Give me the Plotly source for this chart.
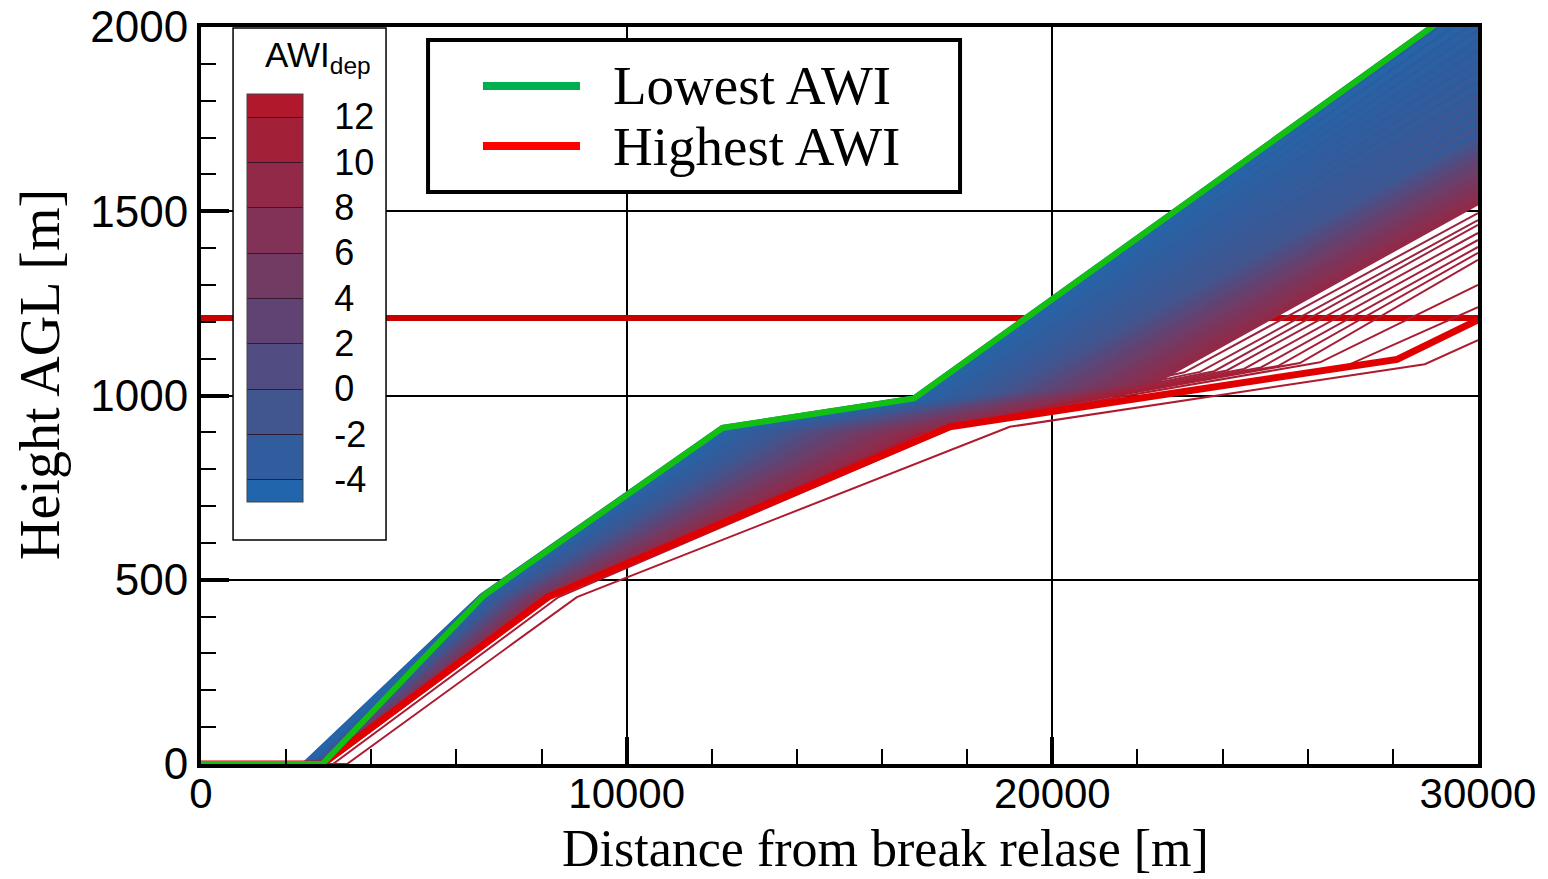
import plotly.graph_objects as go

# ---------------- data ----------------
X_END = 30000           # every trajectory ends at the right edge of the domain
REF_HEIGHT = 1210       # horizontal red reference line [m]

# dense family of trajectories (blue -> purple -> red)
AWI_DENSE = [-4.5, -4.25, -4.0, -3.75, -3.5, -3.25, -3.0, -2.75, -2.5, -2.25, -2.0, -1.75, -1.5, -1.25, -1.0,
             -0.2, 0.6, 1.4, 2.2, 3.0, 3.75, 4.5, 5.25, 6.0, 6.75, 7.5, 8.25, 9.0]
X_START = [2450, 2459, 2468, 2476, 2485, 2494, 2503, 2511, 2520, 2529, 2538, 2546, 2555, 2564, 2573,
           2590, 2608, 2625, 2643, 2660, 2678, 2695, 2713, 2730, 2748, 2765, 2783, 2800]
X_V1 = [6600, 6635, 6670, 6705, 6740, 6775, 6810, 6845, 6880, 6915, 6950, 6985, 7020, 7055, 7090,
        7160, 7230, 7300, 7370, 7440, 7510, 7580, 7650, 7720, 7790, 7860, 7930, 8000]
Y_V1 = [456, 456, 456, 456, 456, 456, 456, 456, 456, 456, 456, 456, 456, 456, 456,
        456, 456, 455, 455, 455, 455, 455, 455, 455, 455, 455, 455, 455]
X_V2 = [12250, 12364, 12478, 12591, 12705, 12819, 12933, 13046, 13160, 13274, 13388, 13501, 13615, 13729, 13843,
        14070, 14298, 14525, 14753, 14980, 15208, 15435, 15663, 15890, 16118, 16345, 16573, 16800]
Y_V2 = [912, 912, 912, 911, 911, 911, 911, 911, 911, 910, 910, 910, 910, 910, 910,
        909, 909, 908, 908, 908, 907, 907, 907, 906, 906, 906, 905, 905]
X_V3 = [16750, 16894, 17038, 17181, 17325, 17469, 17613, 17756, 17900, 18044, 18188, 18331, 18475, 18619, 18763,
        19050, 19338, 19625, 19913, 20200, 20488, 20775, 21063, 21350, 21638, 21925, 22213, 22500]
Y_V3 = [992, 993, 995, 996, 997, 999, 1000, 1001, 1003, 1004, 1005, 1007, 1008, 1009, 1011,
        1013, 1016, 1019, 1021, 1024, 1026, 1029, 1032, 1034, 1037, 1040, 1042, 1045]
Y_END = [2090, 2062, 2034, 2006, 1979, 1951, 1923, 1895, 1867, 1839, 1811, 1784, 1756, 1728, 1700,
         1688, 1676, 1664, 1652, 1640, 1626, 1611, 1597, 1582, 1568, 1554, 1539, 1525]

# sparse red trajectories at the lower right
AWI_SPARSE = [9.5, 10.0, 10.0, 10.5, 10.5, 11.0, 11.0, 11.5, 11.5, 12.0, 12.0, 12.5]
XS_START = [2820, 2830, 2840, 2850, 2860, 2870, 2880, 2890, 2900, 2950, 3100, 3430]
XS_V1 = [8050, 8080, 8100, 8120, 8130, 8140, 8150, 8160, 8170, 8250, 8400, 8830]
YS_V1 = [455, 455, 455, 455, 455, 455, 455, 455, 455, 454, 453, 453]
XS_V2 = [16900, 16950, 17000, 17050, 17100, 17150, 17200, 17250, 17300, 17450, 17700, 19000]
YS_V2 = [906, 907, 908, 909, 910, 910, 911, 912, 913, 914, 914, 915]
XS_V3 = [22760, 23100, 23470, 23800, 24100, 24500, 24900, 25300, 25815, 26290, 26800, 28750]
YS_V3 = [1061, 1063, 1064, 1066, 1068, 1072, 1076, 1080, 1088, 1090, 1075, 1085]
YS_END = [1526, 1495, 1476, 1463, 1441, 1422, 1403, 1387, 1368, 1300, 1240, 1150]

# lowest / highest AWI trajectories
GREEN_X = [0, 2850, 6650, 12250, 16750, 30000]
GREEN_Y = [0, 0, 458, 912, 992, 2090]
RED_X = [0, 2850, 8150, 17595, 28100, 30000]
RED_Y = [0, 0, 453, 915, 1098, 1205]

CBAR_TICKS = [-4, -2, 0, 2, 4, 6, 8, 10, 12]
AWI_MIN, AWI_MAX = -5, 13
X_TICKS = [0, 10000, 20000, 30000]
Y_TICKS = [0, 500, 1000, 1500, 2000]

# ---------------- styling helpers ----------------
C_LO = (33, 102, 172)
C_HI = (178, 24, 43)


def awi_color(a):
    f = (a - AWI_MIN) / (AWI_MAX - AWI_MIN)
    f = max(0.0, min(1.0, f))
    r, g, b = [round(C_LO[i] + (C_HI[i] - C_LO[i]) * f) for i in range(3)]
    return f"rgb({r},{g},{b})"


def path(x0, x1, y1, x2, y2, x3, y3, ye):
    return [0, x0, x1, x2, x3, X_END], [0, 0, y1, y2, y3, ye]


fig = go.Figure()

# horizontal reference line (underneath the fan)
fig.add_trace(go.Scatter(x=[0, X_END], y=[REF_HEIGHT, REF_HEIGHT], mode="lines",
                         line=dict(color="#C80000", width=6), hoverinfo="skip", showlegend=False))

# background fill of the dense fan (from first and last dense trajectories)
tx, ty = path(X_START[0], X_V1[0], Y_V1[0], X_V2[0], Y_V2[0], X_V3[0], Y_V3[0], Y_END[0])
n = len(AWI_DENSE) - 1
bx, by = path(X_START[n], X_V1[n], Y_V1[n], X_V2[n], Y_V2[n], X_V3[n], Y_V3[n], Y_END[n])
fig.add_trace(go.Scatter(x=tx + bx[::-1], y=ty + by[::-1], mode="lines", fill="toself",
                         fillcolor="rgb(44,92,160)", line=dict(width=0), hoverinfo="skip",
                         showlegend=False))

# sparse trajectories
for i in range(len(AWI_SPARSE)):
    xs, ys = path(XS_START[i], XS_V1[i], YS_V1[i], XS_V2[i], YS_V2[i], XS_V3[i], YS_V3[i], YS_END[i])
    fig.add_trace(go.Scatter(x=xs, y=ys, mode="lines",
                             line=dict(color=awi_color(AWI_SPARSE[i]), width=2),
                             hoverinfo="skip", showlegend=False))

# dense trajectories, red first so that blue ends on top
for i in reversed(range(len(AWI_DENSE))):
    xs, ys = path(X_START[i], X_V1[i], Y_V1[i], X_V2[i], Y_V2[i], X_V3[i], Y_V3[i], Y_END[i])
    fig.add_trace(go.Scatter(x=xs, y=ys, mode="lines",
                             line=dict(color=awi_color(AWI_DENSE[i]), width=6),
                             hoverinfo="skip", showlegend=False))

# highest / lowest AWI
fig.add_trace(go.Scatter(x=RED_X, y=RED_Y, mode="lines", line=dict(color="#E00000", width=7),
                         hoverinfo="skip", showlegend=False))
fig.add_trace(go.Scatter(x=GREEN_X, y=GREEN_Y, mode="lines", line=dict(color="#12C012", width=6),
                         hoverinfo="skip", showlegend=False))

SERIF = "Liberation Serif"
SANS = "Liberation Sans"

# dummy contour only for the discrete colour bar (placed outside the visible range)
fig.add_trace(go.Contour(
    x=[40000, 40001], y=[3000, 3001], z=[[AWI_MIN, AWI_MAX], [AWI_MIN, AWI_MAX]],
    autocontour=False,
    contours=dict(start=CBAR_TICKS[0], end=CBAR_TICKS[-1], size=2, coloring="fill", showlines=True),
    line=dict(color="rgba(50,20,40,0.9)", width=1),
    colorscale=[[0, "rgb(33,102,172)"], [1, "rgb(178,24,43)"]],
    hoverinfo="skip", showlegend=False,
    colorbar=dict(
        thickness=56, thicknessmode="pixels",
        len=408, lenmode="pixels",
        x=0.0360, xanchor="left", y=0.9091, yanchor="top",
        xpad=0, ypad=0,
        outlinewidth=1, outlinecolor="#444",
        tickmode="array", tickvals=CBAR_TICKS, ticktext=[str(v) for v in CBAR_TICKS],
        ticks="outside", ticklen=24, tickcolor="rgba(0,0,0,0)",
        tickfont=dict(family=SANS, size=36, color="black"),
        bgcolor="rgba(0,0,0,0)", borderwidth=0,
    ),
))

fig.update_xaxes(
    range=[0, 30000], tickmode="array", tickvals=X_TICKS, ticktext=[str(v) for v in X_TICKS],
    showgrid=True, gridcolor="black", gridwidth=1.5,
    showline=True, linecolor="black", linewidth=4, mirror=True,
    ticks="inside", ticklen=27, tickwidth=4, tickcolor="black",
    minor=dict(ticks="inside", dtick=2000, tick0=0, ticklen=15, tickwidth=1.5, tickcolor="black",
               showgrid=False),
    tickfont=dict(family=SANS, size=42, color="black"),
    ticklabelstandoff=-10,
    automargin=False, zeroline=False,
)
fig.update_yaxes(
    range=[0, 2000], tickmode="array", tickvals=Y_TICKS, ticktext=[str(v) for v in Y_TICKS],
    showgrid=True, gridcolor="black", gridwidth=1.5,
    showline=True, linecolor="black", linewidth=4, mirror=True,
    ticks="inside", ticklen=28, tickwidth=4, tickcolor="black",
    minor=dict(ticks="inside", dtick=100, tick0=0, ticklen=15, tickwidth=1.5, tickcolor="black",
               showgrid=False),
    tickfont=dict(family=SANS, size=44, color="black"),
    automargin=False, zeroline=False,
)

# colour bar frame and legend box (layout decorations)
shapes = [
    dict(type="rect", xref="paper", yref="paper", x0=0.0251, x1=0.1449, y0=0.3039, y1=0.9986,
         line=dict(color="black", width=1.5), fillcolor="white", layer="above"),
    dict(type="rect", xref="paper", yref="paper", x0=0.1778, x1=0.5944, y0=0.7761, y1=0.9824,
         line=dict(color="black", width=4), fillcolor="white", layer="above"),
    dict(type="line", xref="paper", yref="paper", x0=0.2208, x1=0.2968, y0=0.9200, y1=0.9200,
         line=dict(color="#00B050", width=8), layer="above"),
    dict(type="line", xref="paper", yref="paper", x0=0.2208, x1=0.2968, y0=0.8385, y1=0.8385,
         line=dict(color="#FF0000", width=8), layer="above"),
]
annotations = [
    dict(text="AWI<sub>dep</sub>", xref="paper", yref="paper", x=0.0486, y=0.9593, xanchor="left",
         yanchor="middle", showarrow=False, font=dict(family=SANS, size=35, color="black")),
    dict(text="Lowest AWI", xref="paper", yref="paper", x=0.3211, y=0.9200, xanchor="left",
         yanchor="middle", showarrow=False, font=dict(family=SERIF, size=55, color="black")),
    dict(text="Highest AWI", xref="paper", yref="paper", x=0.3211, y=0.8385, xanchor="left",
         yanchor="middle", showarrow=False, font=dict(family=SERIF, size=55, color="black")),
    # axis titles
    dict(text="Distance from break relase [m]", xref="paper", yref="paper", x=0.5364, y=-0.1146,
         xanchor="center", yanchor="middle", showarrow=False,
         font=dict(family=SERIF, size=52, color="black")),
    dict(text="Height AGL [m]", xref="paper", yref="paper", x=-0.126, y=0.528, textangle=-90,
         xanchor="center", yanchor="middle", showarrow=False,
         font=dict(family=SERIF, size=56, color="black")),
]

fig.update_layout(
    width=1548, height=879,
    margin=dict(l=201, r=70, t=27, b=115, autoexpand=False),
    paper_bgcolor="white", plot_bgcolor="white",
    shapes=shapes, annotations=annotations,
    showlegend=False,
)

fig.write_html("out.html")
